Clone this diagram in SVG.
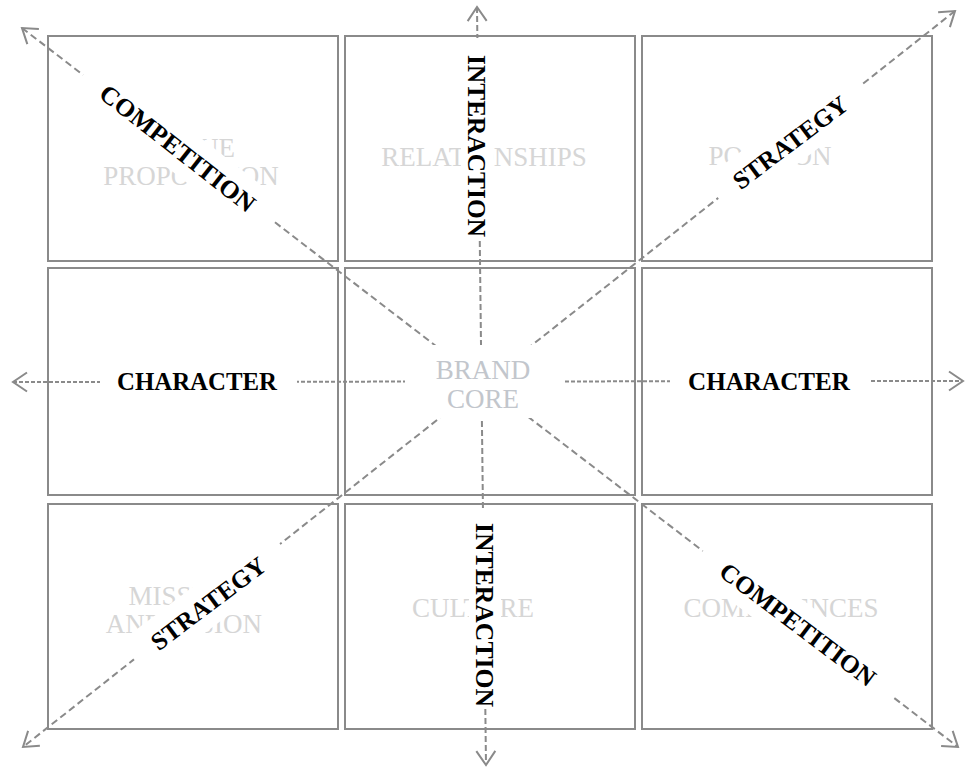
<svg xmlns="http://www.w3.org/2000/svg" width="966" height="771" viewBox="0 0 966 771">
<style>
.box{fill:#fff;stroke:#8a8a8a;stroke-width:2}
.ghost{font-family:"Liberation Serif",serif;font-size:27px;fill:#d6d6d6;text-anchor:middle}
.core{font-family:"Liberation Serif",serif;font-size:27px;fill:#c2c6cc;text-anchor:middle}
.conn{fill:none;stroke:#8a8a8a;stroke-width:2}
.lbl{font-family:"Liberation Serif",serif;font-size:25px;font-weight:bold;fill:#000;text-anchor:middle}
.bg{fill:#fff}
</style>
<defs>
<marker id="arr" markerUnits="userSpaceOnUse" markerWidth="24" markerHeight="24" viewBox="-20 -12 24 24" refX="0" refY="0" orient="auto-start-reverse">
<path d="M-14,-9.5 L0,0 L-14,9.5" fill="none" stroke="#8a8a8a" stroke-width="2"/>
</marker>
</defs>
<g id="nodes">
<g id="value-proposition"><rect class="box" x="48" y="36" width="290" height="225"/><text class="ghost" x="191" y="157">VALUE</text><text class="ghost" x="191" y="185">PROPOSITION</text></g>
<g id="relationships"><rect class="box" x="345" y="36" width="290" height="225"/><text class="ghost" x="484" y="166">RELATIONSHIPS</text></g>
<g id="position"><rect class="box" x="642" y="36" width="290" height="225"/><text class="ghost" x="770" y="165">POSITION</text></g>
<g id="left-middle"><rect class="box" x="48" y="268" width="290" height="227"/></g>
<g id="brand-core"><rect class="box" x="345" y="268" width="290" height="227"/></g>
<g id="right-middle"><rect class="box" x="642" y="268" width="290" height="227"/></g>
<g id="mission"><rect class="box" x="48" y="504" width="290" height="225"/><text class="ghost" x="184" y="605">MISSION</text><text class="ghost" x="184" y="633">AND VISION</text></g>
<g id="culture"><rect class="box" x="345" y="504" width="290" height="225"/><text class="ghost" x="473" y="617">CULTURE</text></g>
<g id="competences"><rect class="box" x="642" y="504" width="290" height="225"/><text class="ghost" x="781" y="617">COMPETENCES</text></g>
</g>
<g id="connectors">
<line class="conn" x1="22" y1="28" x2="958" y2="747" stroke-dasharray="7 4" marker-start="url(#arr)" marker-end="url(#arr)"/>
<line class="conn" x1="955" y1="11" x2="23" y2="747" stroke-dasharray="7 4" marker-start="url(#arr)" marker-end="url(#arr)"/>
<line class="conn" x1="477" y1="7" x2="486" y2="765" stroke-dasharray="6 3" marker-start="url(#arr)" marker-end="url(#arr)"/>
<line class="conn" x1="13" y1="382" x2="963" y2="381" stroke-dasharray="4 2" marker-start="url(#arr)" marker-end="url(#arr)"/>
</g>
<g id="labels">
<rect class="bg" x="405" y="345" width="158" height="73"/>
<text class="core" x="483" y="379">BRAND</text>
<text class="core" x="483" y="408">CORE</text>
<g transform="translate(178,148) rotate(38)"><rect class="bg" x="-120" y="-22" width="240" height="44"/><text class="lbl" x="0" y="9" textLength="190" lengthAdjust="spacingAndGlyphs">COMPETITION</text></g>
<g transform="translate(798,624) rotate(37)"><rect class="bg" x="-120" y="-22" width="240" height="44"/><text class="lbl" x="0" y="9" textLength="188" lengthAdjust="spacingAndGlyphs">COMPETITION</text></g>
<g transform="translate(790,142) rotate(-37)"><rect class="bg" x="-91" y="-22" width="182" height="44"/><text class="lbl" x="0" y="9" textLength="137" lengthAdjust="spacingAndGlyphs">STRATEGY</text></g>
<g transform="translate(208,603) rotate(-37)"><rect class="bg" x="-93" y="-22" width="186" height="44"/><text class="lbl" x="0" y="9" textLength="137" lengthAdjust="spacingAndGlyphs">STRATEGY</text></g>
<g transform="translate(477,146) rotate(90)"><rect class="bg" x="-108" y="-16" width="200" height="32"/><text class="lbl" x="0" y="9" textLength="182" lengthAdjust="spacingAndGlyphs">INTERACTION</text></g>
<g transform="translate(485,615) rotate(90)"><rect class="bg" x="-104" y="-16" width="197" height="32"/><text class="lbl" x="0" y="9" textLength="184" lengthAdjust="spacingAndGlyphs">INTERACTION</text></g>
<rect class="bg" x="100" y="364" width="197" height="36"/>
<text class="lbl" x="197" y="390" textLength="160" lengthAdjust="spacingAndGlyphs">CHARACTER</text>
<rect class="bg" x="670" y="364" width="200" height="36"/>
<text class="lbl" x="769" y="390" textLength="162" lengthAdjust="spacingAndGlyphs">CHARACTER</text>
</g>
</svg>
